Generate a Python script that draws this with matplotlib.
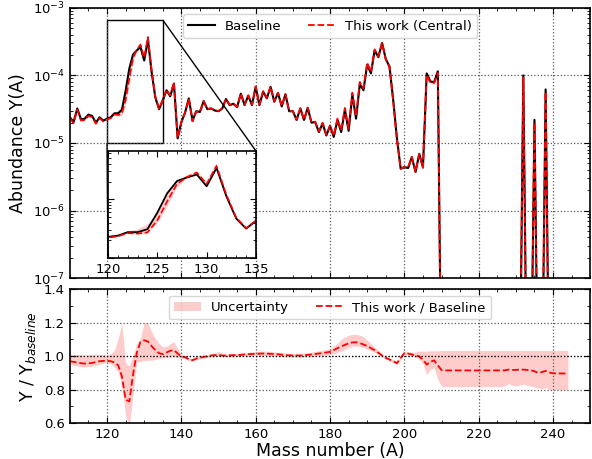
import numpy as np
import matplotlib
matplotlib.use("Agg")
import matplotlib.pyplot as plt
from matplotlib.ticker import MultipleLocator, AutoMinorLocator, NullFormatter
from mpl_toolkits.axes_grid1.inset_locator import mark_inset

# mass numbers A = 110 ... 244
mass_number = list(range(110, 245))

# baseline abundance Y(A); 1e-9 marks values below the plotted range
baseline = [
    2.40e-5, 2.04e-5, 3.24e-5, 2.24e-5, 2.29e-5, 2.63e-5, 2.51e-5, 2.00e-5, 2.40e-5, 2.14e-5,
    2.29e-5, 2.40e-5, 2.75e-5, 2.75e-5, 3.09e-5, 5.89e-5, 1.26e-4, 2.04e-4, 2.34e-4, 2.63e-4,
    1.66e-4, 3.39e-4, 1.12e-4, 4.68e-5, 3.16e-5, 4.27e-5, 6.03e-5, 4.90e-5, 7.59e-5, 1.17e-5,
    2.04e-5, 2.82e-5, 4.57e-5, 2.14e-5, 2.95e-5, 2.88e-5, 4.17e-5, 3.16e-5, 3.24e-5, 3.02e-5,
    2.95e-5, 3.24e-5, 4.47e-5, 3.63e-5, 3.80e-5, 3.39e-5, 5.37e-5, 3.63e-5, 5.01e-5, 3.63e-5,
    6.76e-5, 3.63e-5, 5.75e-5, 4.57e-5, 6.76e-5, 4.07e-5, 5.50e-5, 3.47e-5, 5.25e-5, 2.95e-5,
    2.95e-5, 2.19e-5, 3.24e-5, 2.19e-5, 3.31e-5, 2.00e-5, 2.04e-5, 1.45e-5, 1.95e-5, 1.29e-5,
    1.78e-5, 1.23e-5, 2.19e-5, 1.45e-5, 3.09e-5, 1.51e-5, 5.13e-5, 2.29e-5, 7.41e-5, 6.03e-5,
    1.45e-4, 1.07e-4, 2.34e-4, 1.86e-4, 3.02e-4, 1.74e-4, 1.35e-4, 4.27e-5, 1.17e-5, 4.17e-6,
    4.37e-6, 4.27e-6, 6.17e-6, 3.72e-6, 6.92e-6, 4.37e-6, 1.07e-4, 8.13e-5, 7.94e-5, 1.15e-4,
    1e-9, 1e-9, 1e-9, 1e-9, 1e-9, 1e-9, 1e-9, 1e-9, 1e-9, 1e-9,
    1e-9, 1e-9, 1e-9, 1e-9, 1e-9, 1e-9, 1e-9, 1e-9, 1e-9, 1e-9,
    1e-9, 1e-9, 1.0e-4, 1e-9, 1e-9, 2.2e-5, 1e-9, 1e-9, 6.2e-5, 1e-9,
    1e-9, 1e-9, 1e-9, 1e-9, 1e-9,
]

# this work / baseline
ratio = [
    0.970, 0.966, 0.962, 0.958, 0.956, 0.957, 0.960, 0.965, 0.970, 0.972,
    0.972, 0.970, 0.963, 0.946, 0.880, 0.740, 0.730, 0.890, 1.020, 1.085,
    1.095, 1.088, 1.060, 1.036, 1.018, 1.012, 1.022, 1.032, 1.036, 1.016,
    0.998, 0.994, 0.982, 0.976, 0.986, 0.992, 0.996, 1.000, 1.004, 1.006,
    1.008, 1.004, 1.004, 1.005, 1.006, 1.006, 1.008, 1.010, 1.012, 1.013,
    1.014, 1.015, 1.016, 1.015, 1.014, 1.013, 1.011, 1.009, 1.007, 1.005,
    1.005, 1.004, 1.004, 1.006, 1.008, 1.010, 1.013, 1.016, 1.019, 1.022,
    1.026, 1.036, 1.048, 1.058, 1.068, 1.076, 1.082, 1.083, 1.078, 1.070,
    1.060, 1.048, 1.036, 1.020, 1.004, 0.990, 0.980, 0.970, 0.958, 0.990,
    1.018, 1.016, 1.010, 1.005, 0.998, 0.980, 0.950, 0.966, 0.975, 0.945,
    0.917, 0.915, 0.915, 0.915, 0.915, 0.915, 0.915, 0.915, 0.915, 0.915,
    0.915, 0.915, 0.915, 0.915, 0.915, 0.915, 0.915, 0.915, 0.920, 0.918,
    0.918, 0.920, 0.920, 0.918, 0.916, 0.910, 0.900, 0.905, 0.912, 0.902,
    0.898, 0.897, 0.897, 0.897, 0.897,
]

# uncertainty band of the ratio
ratio_lo = [
    0.950, 0.946, 0.942, 0.938, 0.936, 0.937, 0.940, 0.945, 0.952, 0.958,
    0.962, 0.955, 0.936, 0.906, 0.826, 0.646, 0.580, 0.770, 0.965, 0.968,
    0.975, 0.975, 0.976, 0.980, 0.985, 0.990, 0.990, 0.995, 0.998, 0.990,
    0.988, 0.986, 0.974, 0.968, 0.978, 0.984, 0.988, 0.992, 0.996, 0.998,
    1.000, 0.996, 0.996, 0.996, 0.997, 0.997, 0.998, 1.000, 1.000, 1.000,
    1.002, 1.002, 1.003, 1.002, 1.001, 1.000, 0.999, 0.998, 0.997, 0.996,
    0.996, 0.995, 0.995, 0.996, 0.997, 0.998, 1.000, 1.002, 1.004, 1.006,
    1.008, 1.015, 1.022, 1.030, 1.040, 1.050, 1.058, 1.060, 1.058, 1.052,
    1.042, 1.032, 1.022, 1.010, 0.995, 0.982, 0.972, 0.962, 0.950, 0.980,
    1.008, 1.006, 1.000, 0.994, 0.980, 0.955, 0.890, 0.920, 0.930, 0.860,
    0.820, 0.818, 0.818, 0.818, 0.818, 0.818, 0.818, 0.818, 0.818, 0.818,
    0.818, 0.818, 0.818, 0.818, 0.818, 0.818, 0.818, 0.822, 0.836, 0.826,
    0.822, 0.828, 0.834, 0.826, 0.822, 0.816, 0.810, 0.806, 0.812, 0.800,
    0.805, 0.800, 0.800, 0.800, 0.800,
]
ratio_hi = [
    1.010, 1.010, 1.010, 1.008, 1.008, 1.008, 1.008, 1.010, 1.010, 1.010,
    1.008, 1.015, 1.036, 1.106, 1.196, 0.960, 0.940, 1.006, 1.070, 1.110,
    1.200, 1.196, 1.146, 1.106, 1.076, 1.056, 1.058, 1.076, 1.086, 1.046,
    1.008, 1.004, 0.990, 0.984, 0.994, 1.000, 1.004, 1.008, 1.014, 1.020,
    1.030, 1.014, 1.012, 1.014, 1.015, 1.016, 1.018, 1.020, 1.024, 1.026,
    1.028, 1.030, 1.030, 1.030, 1.028, 1.026, 1.024, 1.020, 1.018, 1.016,
    1.016, 1.015, 1.015, 1.018, 1.020, 1.024, 1.028, 1.032, 1.036, 1.040,
    1.045, 1.060, 1.078, 1.100, 1.115, 1.125, 1.130, 1.130, 1.126, 1.115,
    1.095, 1.075, 1.055, 1.035, 1.015, 1.000, 0.990, 0.980, 0.968, 1.000,
    1.028, 1.026, 1.022, 1.025, 1.030, 1.030, 1.030, 1.032, 1.032, 1.032,
    1.034, 1.034, 1.034, 1.034, 1.034, 1.034, 1.034, 1.034, 1.034, 1.034,
    1.034, 1.034, 1.034, 1.034, 1.034, 1.034, 1.034, 1.034, 1.034, 1.034,
    1.034, 1.034, 1.034, 1.034, 1.034, 1.034, 1.034, 1.034, 1.034, 1.034,
    1.034, 1.034, 1.034, 1.034, 1.034,
]

BAND = "red"
TICK_FS = 9.5


def style_axis(ax):
    ax.tick_params(which="both", direction="in", top=True, right=True, labelsize=TICK_FS)
    ax.tick_params(which="major", length=4)
    ax.tick_params(which="minor", length=2)
    for s in ax.spines.values():
        s.set_linewidth(1.2)


A = np.array(mass_number)
base = np.array(baseline)
central = base * np.array(ratio)
band_lo = base * np.array(ratio_lo)
band_hi = base * np.array(ratio_hi)

fig = plt.figure(figsize=(5.92, 4.59), dpi=100)
ax1 = fig.add_axes([0.118, 0.394, 0.879, 0.589])
ax2 = fig.add_axes([0.118, 0.078, 0.879, 0.292], sharex=ax1)

# abundances
ax1.fill_between(A, band_lo, band_hi, color=BAND, alpha=0.2, lw=0)
ax1.plot(A, base, color="k", lw=1.5, label="Baseline")
ax1.plot(A, central, color="r", ls="--", lw=1.3, label="This work (Central)")
ax1.set_yscale("log")
ax1.set_ylim(1e-7, 1e-3)
ax1.set_xlim(110, 250)
ax1.set_ylabel("Abundance Y(A)", fontsize=12.5)
ax1.grid(True, which="major", ls=":", color="0.35", lw=0.9)
ax1.xaxis.set_major_locator(MultipleLocator(20))
ax1.xaxis.set_minor_locator(MultipleLocator(5))
ax1.tick_params(labelbottom=False)
style_axis(ax1)
ax1.legend(loc="upper center", ncol=2, fontsize=9.5, columnspacing=2.0)

# zoom inset
axins = fig.add_axes([0.1824, 0.4379, 0.25, 0.2331])
axins.fill_between(A, band_lo, band_hi, color=BAND, alpha=0.2, lw=0)
axins.plot(A, base, color="k", lw=1.3)
axins.plot(A, central, color="r", ls="--", lw=1.2)
axins.set_yscale("log")
axins.set_xlim(120, 135)
axins.set_ylim(1e-5, 6.6e-4)
axins.xaxis.set_major_locator(MultipleLocator(5))
axins.xaxis.set_minor_locator(MultipleLocator(1))
axins.yaxis.set_major_formatter(NullFormatter())
axins.yaxis.set_minor_formatter(NullFormatter())
style_axis(axins)
mark_inset(ax1, axins, loc1=1, loc2=3, fc="none", ec="k", lw=1.0)

# ratio panel
ax2.fill_between(A, ratio_lo, ratio_hi, color=BAND, alpha=0.2, lw=0, label="Uncertainty")
ax2.plot(A, ratio, color="r", ls="--", lw=1.3, label="This work / Baseline")
ax2.axhline(1.0, color="k", ls=":", lw=0.9)
ax2.set_ylim(0.6, 1.4)
ax2.yaxis.set_major_locator(MultipleLocator(0.2))
ax2.yaxis.set_minor_locator(AutoMinorLocator(2))
ax2.set_xlabel("Mass number (A)", fontsize=12.5, labelpad=1)
ax2.set_ylabel("Y / Y$_{baseline}$", fontsize=12.5)
ax2.grid(True, which="major", ls=":", color="0.35", lw=0.9)
style_axis(ax2)
ax2.legend(loc="upper center", ncol=2, fontsize=9.5, columnspacing=2.0)

fig.savefig("out.png", dpi=100)
